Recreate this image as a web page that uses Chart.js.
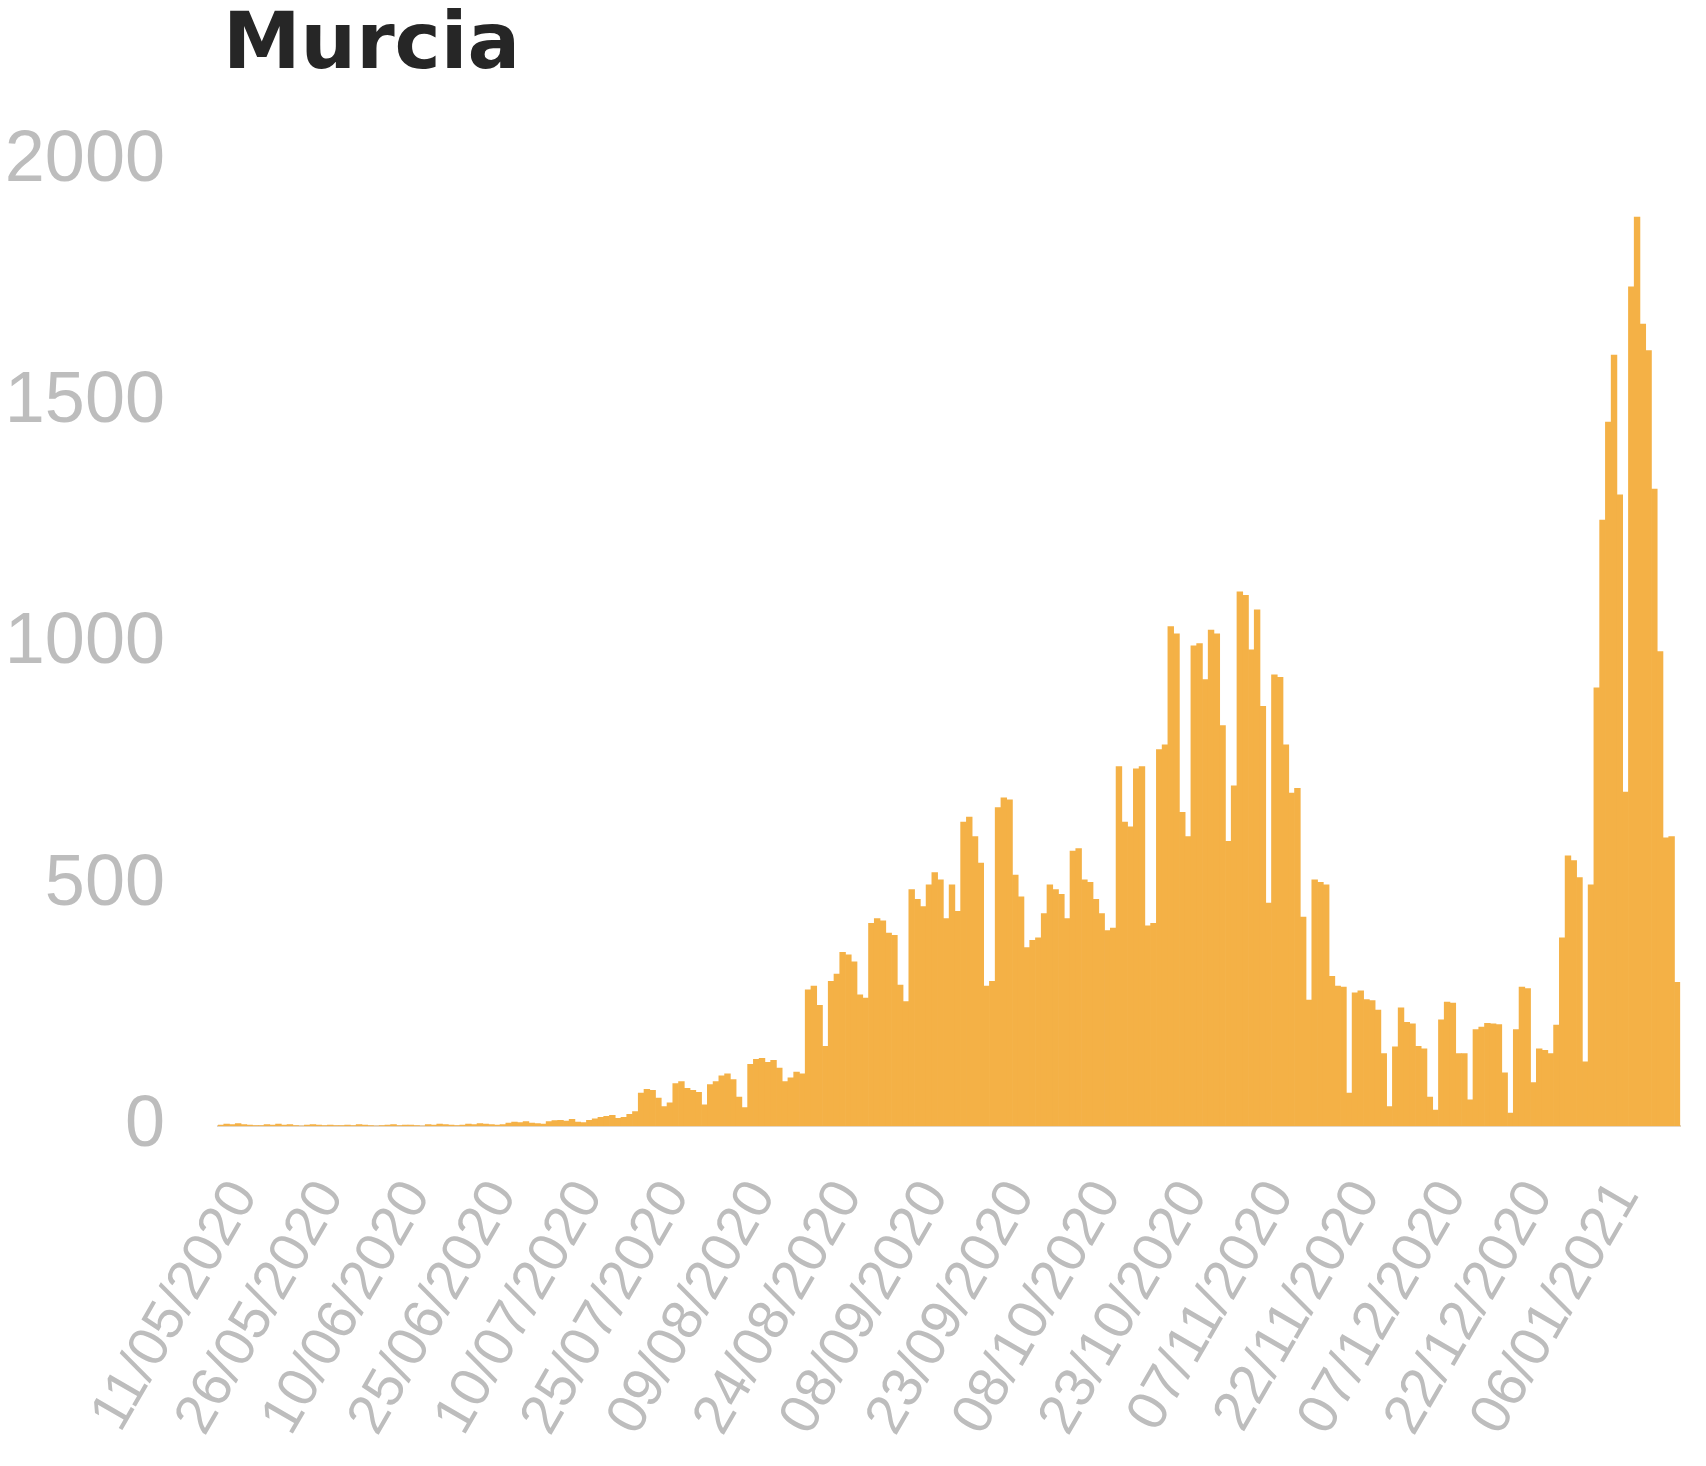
<!DOCTYPE html>
<html lang="es">
<head>
    <meta charset="UTF-8">
    <title>Murcia</title>
    <script src="https://cdn.jsdelivr.net/npm/chart.js"></script>
    <style>
        body { margin: 0; background: #fff; }
        #wrap { width: 1706px; height: 1466px; }
    </style>
</head>
<body>
    <div id="wrap"><canvas id="chartCanvas" width="1706" height="1466"></canvas></div>

    <script>
        // daily values from 11/05/2020
        const startDate = [2020, 4, 11];
        const casesEarly = [
            2, 4, 3, 5, 3, 2, 1,
            1, 3, 2, 4, 2, 3, 1,
            0, 2, 3, 2, 1, 2, 1,
            1, 2, 1, 3, 2, 1, 0,
            1, 2, 3, 1, 2, 2, 1,
            0, 3, 2, 4, 3, 2, 1,
            2, 4, 3, 5, 4, 3, 2,
            3, 6, 8, 7, 9, 6, 5,
            4, 9, 11, 12, 10, 14, 8,
            7, 12, 15, 18, 20, 22, 16
        ];
        const casesSummer = [
            18, 24, 30, 68, 76, 74, 58,
            40, 48, 88, 92, 78, 74, 70,
            44, 86, 92, 104, 108, 96, 60,
            38, 128, 138, 140, 132, 136, 120,
            92, 100, 112, 108, 282, 290, 250,
            165, 300, 315, 360, 355, 340, 272,
            265, 420, 430, 425, 400, 395, 292,
            258, 490, 470, 455, 500, 525, 510
        ];
        const casesAutumn = [
            430, 500, 445, 630, 640, 600, 545,
            290, 300, 660, 680, 676, 520, 475,
            370, 385, 390, 440, 500, 490, 480,
            430, 570, 575, 510, 505, 470, 440,
            405, 410, 745, 630, 620, 740, 745,
            415, 420, 780, 790, 1035, 1020, 650,
            600, 995, 1000, 925, 1028, 1020, 830,
            590, 705, 1107, 1100, 987, 1070, 870,
            462, 935, 930, 790, 690, 700, 433
        ];
        const casesWinter = [
            261, 510, 505, 500, 310, 290, 288,
            68, 276, 280, 262, 260, 240, 150,
            40, 164, 245, 215, 212, 165, 160,
            60, 33, 220, 257, 255, 150, 150,
            54, 200, 205, 213, 212, 210, 110,
            27, 200, 288, 285, 90, 160, 157,
            150, 209, 390, 560, 550, 515, 133,
            500, 908, 1256, 1459, 1598, 1308, 692,
            1739, 1884, 1662, 1607, 1320, 983, 597,
            600, 298
        ];
        const cases = [].concat(casesEarly, casesSummer, casesAutumn, casesWinter);
        const yTicks = [0, 500, 1000, 1500, 2000];
        const labelEvery = 15;

        function pad(n) { return n < 10 ? '0' + n : '' + n; }
        const labels = cases.map(function (v, i) {
            const d = new Date(startDate[0], startDate[1], startDate[2] + i);
            return pad(d.getDate()) + '/' + pad(d.getMonth() + 1) + '/' + d.getFullYear();
        });

        const titlePlugin = {
            id: 'leftTitle',
            afterDraw(chart) {
                const c = chart.ctx;
                c.save();
                c.font = 'bold 78px "DejaVu Sans"';
                c.fillStyle = '#262626';
                c.textBaseline = 'alphabetic';
                c.fillText('Murcia', 223, 68);
                c.restore();
            }
        };

        const ctx = document.getElementById('chartCanvas').getContext('2d');
        const chart = new Chart(ctx, {
            type: 'bar',
            data: {
                labels: labels,
                datasets: [{
                    label: 'Murcia',
                    data: cases,
                    backgroundColor: 'rgb(244, 177, 70)',
                    borderWidth: 0,
                    barPercentage: 1,
                    categoryPercentage: 1
                }]
            },
            options: {
                responsive: false,
                animation: false,
                layout: { padding: { top: 161, right: 24, left: 0, bottom: 0 } },
                plugins: {
                    legend: { display: false },
                    tooltip: { enabled: false }
                },
                scales: {
                    x: {
                        grid: { display: false, drawTicks: false },
                        border: { display: true, color: '#e3d6c4', width: 2 },
                        afterFit: function (s) { s.height = 340; },
                        ticks: {
                            autoSkip: false,
                            minRotation: 60,
                            maxRotation: 60,
                            padding: 44,
                            labelOffset: 24,
                            color: '#bdbdbd',
                            font: { family: '"Liberation Sans"', size: 56 },
                            callback: function (value, index) {
                                return index % labelEvery === 0 ? this.getLabelForValue(value) : null;
                            }
                        }
                    },
                    y: {
                        min: 0,
                        max: 2000,
                        afterFit: function (s) { s.width = 218; },
                        afterBuildTicks: function (s) { s.ticks = yTicks.map(function (v) { return { value: v }; }); },
                        grid: { display: false, drawTicks: false },
                        border: { display: false },
                        ticks: {
                            padding: 53,
                            color: '#bdbdbd',
                            font: { family: '"Liberation Sans"', size: 72 },
                            callback: function (value) { return String(value); }
                        }
                    }
                }
            },
            plugins: [titlePlugin]
        });
    </script>
</body>
</html>
